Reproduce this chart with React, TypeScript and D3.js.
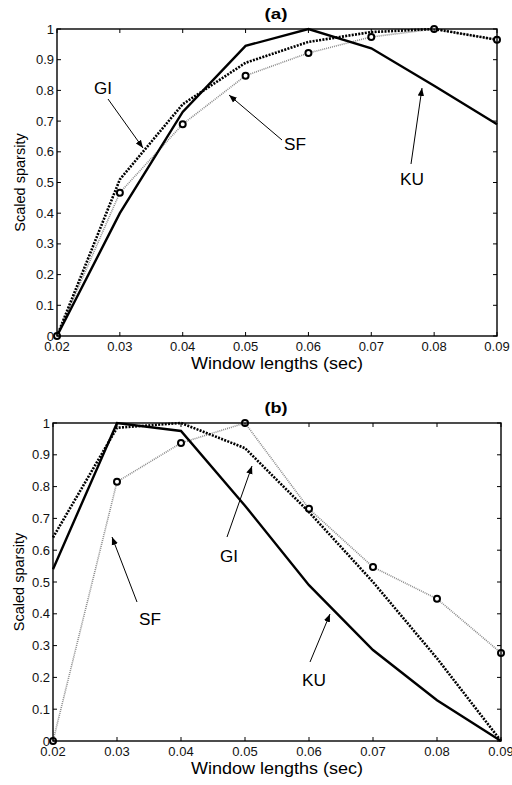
import React from 'react'
import * as d3 from 'd3'

// window lengths (sec)
const windows = [0.02, 0.03, 0.04, 0.05, 0.06, 0.07, 0.08, 0.09]
const xTicks = [0.02, 0.03, 0.04, 0.05, 0.06, 0.07, 0.08, 0.09]
const yTicks = [0, 0.1, 0.2, 0.3, 0.4, 0.5, 0.6, 0.7, 0.8, 0.9, 1]

// panel (a)
const kuA = [0, 0.4, 0.73, 0.945, 1.0, 0.937, 0.815, 0.69]
const giA = [0, 0.51, 0.755, 0.89, 0.958, 0.99, 1.0, 0.965]
const sfA = [0, 0.467, 0.69, 0.848, 0.922, 0.974, 1.0, 0.965]

// panel (b)
const kuB = [0.54, 1.0, 0.975, 0.74, 0.49, 0.286, 0.128, 0]
const giB = [0.64, 0.985, 1.0, 0.921, 0.72, 0.5, 0.26, 0]
const sfB = [0, 0.815, 0.937, 1.0, 0.73, 0.547, 0.447, 0.277]

const FONT = 'Liberation Sans, Arial, Helvetica, sans-serif'

type Note = { label: string; w: number; tx: number; ty: number; from: [number, number]; to: [number, number] }

type PanelProps = {
  id: string
  title: string
  box: { x0: number; x1: number; y0: number; y1: number }
  ylabX: number
  ku: number[]
  gi: number[]
  sf: number[]
  notes: Note[]
}

function Panel({ id, title, box, ylabX, ku, gi, sf, notes }: PanelProps) {
  const x = d3.scaleLinear().domain([0.02, 0.09]).range([box.x0, box.x1])
  const y = d3.scaleLinear().domain([0, 1]).range([box.y1, box.y0])
  const line = d3
    .line<number>()
    .x((d, i) => x(windows[i]))
    .y(d => y(d))
  const fmt = (v: number) => (v === 0 ? '0' : v === 1 ? '1' : d3.format('.1f')(v))
  const midX = (box.x0 + box.x1) / 2
  const midY = (box.y0 + box.y1) / 2

  return (
    <g fontFamily={FONT}>
      <defs>
        <marker id={'arr' + id} viewBox="0 0 10 10" refX="10" refY="5" markerWidth="8" markerHeight="8" orient="auto" markerUnits="userSpaceOnUse">
          <path d="M0,1 L10,5 L0,9 Z" fill="#000" />
        </marker>
      </defs>
      {/* title */}
      <text x={276} y={box.y0 - 10} fontSize={15} fontWeight="bold" textAnchor="middle" textLength={23} lengthAdjust="spacingAndGlyphs">
        {title}
      </text>

      {/* lines */}
      <path d={line(sf) || ''} fill="none" stroke="#8a8a8a" strokeWidth={1.6} strokeDasharray="1,1" />
      <path d={line(gi) || ''} fill="none" stroke="#000" strokeWidth={2.6} strokeDasharray="2,1.3" />
      <path d={line(ku) || ''} fill="none" stroke="#000" strokeWidth={2.4} />
      {sf.map((v, i) => (
        <circle key={i} cx={x(windows[i])} cy={y(v)} r={3} fill="#fff" stroke="#000" strokeWidth={2} />
      ))}

      {/* frame */}
      <rect x={box.x0} y={box.y0} width={box.x1 - box.x0} height={box.y1 - box.y0} fill="none" stroke="#000" strokeWidth={1.4} />

      {/* x ticks */}
      {xTicks.map(t => (
        <g key={'x' + t}>
          <line x1={x(t)} x2={x(t)} y1={box.y1} y2={box.y1 - 4} stroke="#000" />
          <line x1={x(t)} x2={x(t)} y1={box.y0} y2={box.y0 + 4} stroke="#000" />
          <text x={x(t)} y={box.y1 + 15} fontSize={13} textAnchor="middle" fill="#111">
            {t.toFixed(2)}
          </text>
        </g>
      ))}
      {/* y ticks */}
      {yTicks.map(t => (
        <g key={'y' + t}>
          <line x1={box.x0} x2={box.x0 + 4} y1={y(t)} y2={y(t)} stroke="#000" />
          <line x1={box.x1} x2={box.x1 - 4} y1={y(t)} y2={y(t)} stroke="#000" />
          <text x={box.x0 - 3} y={y(t) + 4.5} fontSize={13} textAnchor="end" fill="#111">
            {fmt(t)}
          </text>
        </g>
      ))}

      {/* axis labels */}
      <text x={midX} y={box.y1 + 33} fontSize={16} textAnchor="middle" textLength={172} lengthAdjust="spacingAndGlyphs">
        Window lengths (sec)
      </text>
      <text transform={`translate(${ylabX},${midY}) rotate(-90)`} fontSize={14.5} textAnchor="middle">
        Scaled sparsity
      </text>

      {/* annotations */}
      {notes.map(n => (
        <g key={n.label}>
          <line x1={n.from[0]} y1={n.from[1]} x2={n.to[0]} y2={n.to[1]} stroke="#000" strokeWidth={1} markerEnd={`url(#arr${id})`} />
          <text x={n.tx} y={n.ty} fontSize={16} textAnchor="middle" dominantBaseline="central" textLength={n.w} lengthAdjust="spacingAndGlyphs">
            {n.label}
          </text>
        </g>
      ))}
    </g>
  )
}

const notesA: Note[] = [
  { label: 'GI', w: 18, tx: 103, ty: 88, from: [108, 99], to: [143, 148] },
  { label: 'SF', w: 22, tx: 295, ty: 144, from: [282, 140], to: [229, 95] },
  { label: 'KU', w: 24, tx: 412, ty: 179, from: [411, 164], to: [422, 88] },
]

const notesB: Note[] = [
  { label: 'GI', w: 18, tx: 229, ty: 556, from: [227, 537], to: [252, 466] },
  { label: 'SF', w: 22, tx: 150, ty: 619, from: [137, 602], to: [112, 537] },
  { label: 'KU', w: 24, tx: 314, ty: 680, from: [310, 662], to: [330, 614] },
]

export default function App() {
  return (
    <svg width={512} height={785} style={{ position: 'absolute', left: 0, top: 0, background: '#fff' }}>
      <Panel id="a" title="(a)" box={{ x0: 57, x1: 497, y0: 29, y1: 336 }} ylabX={25} ku={kuA} gi={giA} sf={sfA} notes={notesA} />
      <Panel id="b" title="(b)" box={{ x0: 53, x1: 501, y0: 423, y1: 741 }} ylabX={24} ku={kuB} gi={giB} sf={sfB} notes={notesB} />
    </svg>
  )
}
